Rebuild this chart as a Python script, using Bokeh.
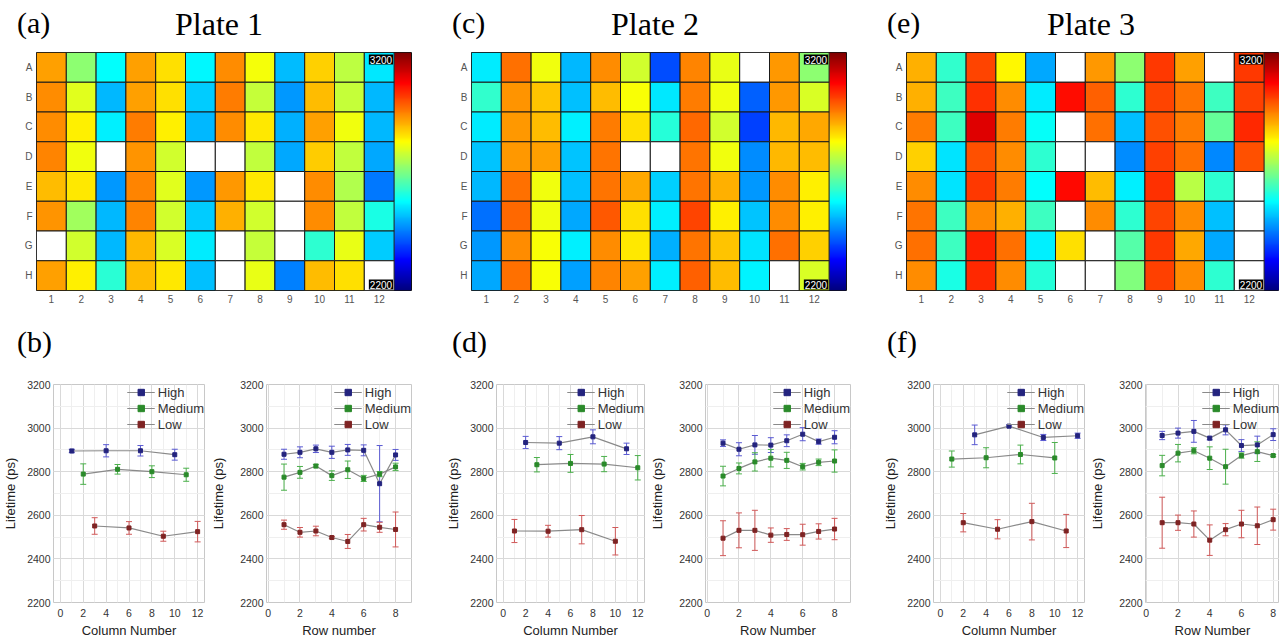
import numpy as np
from bokeh.plotting import figure
from bokeh.layouts import column, row
from bokeh.models import (Range1d, LinearColorMapper, ColumnDataSource, Label, Whisker, TeeHead,
                          Legend, LegendItem, SingleIntervalTicker, FixedTicker, Div)
from bokeh.transform import transform
from bokeh.embed import file_html
from bokeh.resources import INLINE

NaN = float("nan")

# ---------------- data ----------------
row_labels = ["A", "B", "C", "D", "E", "F", "G", "H"]
col_labels = ["1", "2", "3", "4", "5", "6", "7", "8", "9", "10", "11", "12"]
plate_titles = ["Plate 1", "Plate 2", "Plate 3"]
top_letters = ["(a)", "(c)", "(e)"]
bottom_letters = ["(b)", "(d)", "(f)"]
cbar_low, cbar_high = 2200, 3200
cbar_labels = ["3200", "2200"]

plate1 = [
    [2918, 2712, 2575, 2918, 2855, 2570, 2935, 2815, 2510, 2870, 2760, 2555],
    [2935, 2795, 2508, 2918, 2855, 2525, 2950, 2770, 2475, 2888, 2770, 2508],
    [2935, 2840, 2560, 2950, 2840, 2508, 2938, 2848, 2498, 2918, 2810, 2505],
    [2943, 2810, NaN, 2930, 2780, NaN, NaN, 2763, 2490, 2875, 2763, 2490],
    [2888, 2848, 2475, 2943, 2795, 2475, 2925, 2848, NaN, 2935, 2747, 2443],
    [2930, 2733, 2508, 2943, 2780, 2525, 2903, 2780, NaN, 2938, 2763, 2600],
    [NaN, 2780, 2508, 2893, 2788, 2557, NaN, 2770, NaN, 2620, 2803, 2525],
    [2918, 2840, 2615, 2888, 2848, 2513, NaN, 2803, 2450, 2888, 2855, NaN],
]
plate2 = [
    [2557, 2965, 2810, 2508, 2935, 2780, 2403, 2943, 2803, NaN, 2925, 2715],
    [2625, 2930, 2880, 2513, 2888, 2818, 2555, 2950, 2810, 2420, 2925, 2788],
    [2557, 2925, 2888, 2560, 2950, 2855, 2612, 2973, 2780, 2388, 2895, 2910],
    [2520, 2925, 2918, 2520, 2958, NaN, NaN, 2958, 2810, 2465, 2895, 2888],
    [2508, 2965, 2810, 2513, 2958, 2908, 2530, 2958, 2903, 2475, 2938, 2840],
    [2435, 2973, 2810, 2490, 2988, 2855, 2560, 3005, 2840, 2520, 2938, 2840],
    [2475, 2938, 2818, 2560, 2938, 2848, 2498, 2958, 2880, 2550, 2965, 2870],
    [2490, 2965, 2818, 2485, 2943, 2918, 2560, 2980, 2888, 2565, NaN, 2788],
]
plate3 = [
    [2903, 2625, 3005, 2830, 2490, NaN, 2925, 2715, 3020, 2915, NaN, 3020],
    [2903, 2635, 3027, 2935, 2557, 3060, 2980, 2620, 3005, 2958, 2635, 3012],
    [2950, 2635, 3105, 2950, 2580, NaN, 2965, 2513, 2995, 2950, 2675, 3035],
    [2870, 2550, 2995, 2935, 2620, NaN, NaN, 2465, 3012, 2965, 2458, 2995],
    [2938, 2550, 3020, 2950, 2575, 3067, 2888, 2560, 3027, 2755, 2620, NaN],
    [2958, 2635, 2938, 2903, 2635, NaN, 2938, 2620, 3005, 2938, 2513, NaN],
    [2965, 2635, 3043, 2965, 2560, 2855, NaN, 2660, 3020, 2910, 2490, NaN],
    [2938, 2600, 3035, 2935, 2612, NaN, NaN, 2700, 3012, 2935, 2620, NaN],
]

series_names = ["High", "Medium", "Low"]
row_x = [1, 2, 3, 4, 5, 6, 7, 8]

# Plate 1
p1_col_high_x = [1, 4, 7, 10];  p1_col_high = [2895, 2896, 2896, 2878]; p1_col_high_err = [8, 28, 24, 25]
p1_col_med_x = [2, 5, 8, 11];   p1_col_med = [2789, 2811, 2800, 2786];  p1_col_med_err = [47, 22, 27, 30]
p1_col_low_x = [3, 6, 9, 12];   p1_col_low = [2551, 2542, 2504, 2525];  p1_col_low_err = [38, 29, 23, 47]
p1_row_high = [2880, 2889, 2905, 2889, 2900, 2898, 2745, 2877]; p1_row_high_err = [23, 25, 17, 28, 25, 25, 175, 25]
p1_row_med = [2775, 2797, 2826, 2782, 2809, 2769, 2789, 2822];  p1_row_med_err = [60, 27, 8, 22, 40, 14, 12, 17]
p1_row_low = [2557, 2522, 2528, 2498, 2480, 2557, 2545, 2535];  p1_row_low_err = [21, 22, 22, 5, 32, 29, 23, 80]
# Plate 2
p2_col_high_x = [2, 5, 8, 11];  p2_col_high = [2934, 2931, 2960, 2905]; p2_col_high_err = [28, 30, 32, 26]
p2_col_med_x = [3, 6, 9, 12];   p2_col_med = [2832, 2838, 2835, 2818];  p2_col_med_err = [33, 41, 35, 56]
p2_col_low_x = [1, 4, 7, 10];   p2_col_low = [2528, 2527, 2534, 2481];  p2_col_low_err = [53, 27, 65, 63]
p2_row_high = [2931, 2903, 2923, 2922, 2942, 2972, 2938, 2958]; p2_row_high_err = [15, 30, 43, 34, 27, 30, 12, 30]
p2_row_med = [2780, 2815, 2845, 2862, 2852, 2823, 2843, 2849];  p2_row_med_err = [45, 25, 42, 40, 37, 15, 15, 51]
p2_row_low = [2495, 2531, 2531, 2509, 2512, 2511, 2526, 2537];  p2_row_low_err = [80, 80, 92, 33, 27, 48, 35, 49]
# Plate 3
p3_col_high_x = [3, 6, 9, 12];  p3_col_high = [2969, 3009, 2957, 2965]; p3_col_high_err = [45, 5, 14, 12]
p3_col_med_x = [1, 4, 7, 10];   p3_col_med = [2858, 2864, 2879, 2863];  p3_col_med_err = [37, 46, 43, 71]
p3_col_low_x = [2, 5, 8, 11];   p3_col_low = [2566, 2536, 2571, 2528];  p3_col_low_err = [42, 44, 84, 76]
p3_row_high = [2966, 2977, 2985, 2954, 2992, 2920, 2923, 2970]; p3_row_high_err = [19, 23, 50, 8, 23, 27, 40, 27]
p3_row_med = [2828, 2885, 2896, 2862, 2823, 2874, 2892, 2874];  p3_row_med_err = [47, 40, 14, 52, 80, 12, 45, 5]
p3_row_low = [2566, 2566, 2560, 2486, 2534, 2560, 2552, 2580];  p3_row_low_err = [117, 35, 60, 70, 28, 63, 86, 48]

col_xlabel = "Column Number"
row_xlabels = ["Row number", "Row Number", "Row Number"]
ylabel = "Lifetime (ps)"

# ---------------- style ----------------
SANS = "Liberation Sans"
SERIF = "Liberation Serif"
marker_colors = ["#23237e", "#2a8a2a", "#7e2323"]
bar_colors = ["#5a5ad2", "#4cb04c", "#d05a5a"]
line_color = "#8a8a8a"


def jet(n=256):
    out = []
    for i in range(n):
        t = i / (n - 1)
        r = min(max(1.5 - abs(4 * t - 3), 0), 1)
        g = min(max(1.5 - abs(4 * t - 2), 0), 1)
        b = min(max(1.5 - abs(4 * t - 1), 0), 1)
        out.append("#%02x%02x%02x" % (int(r * 255), int(g * 255), int(b * 255)))
    return out


JET = jet()
CELL = 29.8
CBAR_W = 17


def header_div(letter, title, width, title_center):
    html = (
        f'<div style="position:relative;width:{width}px;height:46px;'
        f"font-family:'Liberation Serif',serif;color:#000;\">"
        f'<span style="position:absolute;left:17px;top:8px;font-size:30px;line-height:30px;'
        f'white-space:nowrap;">{letter}</span>'
        f'<span style="position:absolute;left:{title_center - 100}px;width:200px;text-align:center;'
        f'top:8px;font-size:32px;line-height:32px;white-space:nowrap;">{title}</span></div>'
    )
    return Div(text=html, width=width, height=46, margin=0)


def heatmap(vals, width, frame_w):
    p = figure(width=width, height=264,
               x_range=Range1d(0.5, 0.5 + frame_w / CELL), y_range=Range1d(0.5, 8.5),
               output_backend="svg", toolbar_location=None,
               min_border_left=36, min_border_right=width - 36 - frame_w,
               min_border_top=6, min_border_bottom=20)
    xs, ys, vs = [], [], []
    for r in range(len(row_labels)):
        for c in range(len(col_labels)):
            xs.append(c + 1)
            ys.append(len(row_labels) - r)
            vs.append(vals[r][c])
    src = ColumnDataSource(dict(x=np.array(xs, float), y=np.array(ys, float), v=np.array(vs, float)))
    mapper = LinearColorMapper(palette=JET, low=cbar_low, high=cbar_high, nan_color="white")
    grad = np.linspace(cbar_low, cbar_high, 256).reshape(256, 1)
    p.image(image=[grad], x=12.5, y=0.5, dw=CBAR_W / CELL, dh=8, color_mapper=mapper)
    p.rect("x", "y", 1, 1, source=src, fill_color=transform("v", mapper),
           line_color="#1a1a1a", line_width=1)
    p.xaxis.ticker = FixedTicker(ticks=list(range(1, 13)))
    p.xaxis.major_label_overrides = {i + 1: col_labels[i] for i in range(12)}
    p.yaxis.ticker = FixedTicker(ticks=list(range(1, 9)))
    p.yaxis.major_label_overrides = {8 - i: row_labels[i] for i in range(8)}
    for ax in (p.xaxis[0], p.yaxis[0]):
        ax.axis_line_color = None
        ax.major_tick_line_color = None
        ax.minor_tick_line_color = None
        ax.major_tick_out = 0
        ax.major_tick_in = 0
        ax.minor_tick_out = 0
        ax.minor_tick_in = 0
        ax.major_label_text_font = SANS
        ax.major_label_text_font_size = "10px"
        ax.major_label_text_color = "#555555"
        ax.major_label_standoff = 4
    p.grid.visible = False
    p.outline_line_color = "#111111"
    p.outline_line_width = 1
    p.add_layout(Label(x=12.5, y=8.5, text=cbar_labels[0], text_align="right", text_baseline="top",
                       x_offset=-1, y_offset=-2, text_font=SANS, text_font_size="10px",
                       text_color="white", background_fill_color="black", padding=1))
    p.add_layout(Label(x=12.5, y=0.5, text=cbar_labels[1], text_align="right", text_baseline="bottom",
                       x_offset=-1, y_offset=1, text_font=SANS, text_font_size="10px",
                       text_color="white", background_fill_color="black", padding=1))
    return p


def lineplot(series, xr, width, frame_left, frame_w, xlabel, label_standoff, x_interval=2):
    p = figure(width=width, height=266, x_range=Range1d(*xr), y_range=Range1d(2200, 3200),
               output_backend="svg", toolbar_location=None,
               min_border_left=frame_left, min_border_right=width - frame_left - frame_w,
               min_border_top=10, min_border_bottom=38)
    items = []
    for (name, xs, ys, es), mc, bc in zip(series, marker_colors, bar_colors):
        src = ColumnDataSource(dict(x=xs, y=ys,
                                    upper=[y + e for y, e in zip(ys, es)],
                                    lower=[y - e for y, e in zip(ys, es)]))
        wh = Whisker(base="x", upper="upper", lower="lower", source=src,
                     line_color=bc, line_width=1,
                     upper_head=TeeHead(size=6, line_color=bc, line_width=1),
                     lower_head=TeeHead(size=6, line_color=bc, line_width=1))
        p.add_layout(wh)
        lr = p.line("x", "y", source=src, line_color=line_color, line_width=1.2)
        sr = p.scatter("x", "y", source=src, marker="square", size=4, color=mc)
        items.append(LegendItem(label=name, renderers=[lr, sr]))
    leg = Legend(items=items, location="top_right", margin=0, padding=0, spacing=0,
                 glyph_width=28, glyph_height=16, label_height=16, label_standoff=3,
                 label_text_font=SANS, label_text_font_size="13px", label_text_color="#333333",
                 background_fill_alpha=0, border_line_color=None)
    p.add_layout(leg)
    p.xaxis.ticker = SingleIntervalTicker(interval=x_interval, num_minor_ticks=2)
    p.yaxis.ticker = SingleIntervalTicker(interval=200, num_minor_ticks=2)
    p.xaxis.axis_label = xlabel
    p.yaxis.axis_label = ylabel
    for ax in (p.xaxis[0], p.yaxis[0]):
        ax.axis_line_color = None
        ax.major_tick_line_color = None
        ax.minor_tick_line_color = None
        ax.major_tick_out = 0
        ax.major_tick_in = 0
        ax.minor_tick_out = 0
        ax.minor_tick_in = 0
        ax.major_label_text_font = SANS
        ax.major_label_text_font_size = "10.5px"
        ax.major_label_text_color = "#333333"
        ax.axis_label_text_font = SANS
        ax.axis_label_text_font_size = "13px"
        ax.axis_label_text_font_style = "normal"
        ax.axis_label_text_color = "#222222"
    p.xaxis.major_label_standoff = 6
    p.xaxis.axis_label_standoff = 3
    p.yaxis.major_label_standoff = 3
    p.yaxis.axis_label_standoff = label_standoff
    p.grid.grid_line_color = "#d9d9d9"
    p.grid.minor_grid_line_color = "#efefef"
    p.outline_line_color = "#c8c8c8"
    return p


headers = row(
    header_div(top_letters[0], plate_titles[0], 435, 219),
    header_div(top_letters[1], plate_titles[1], 435, 220),
    header_div(top_letters[2], plate_titles[2], 409, 221),
)
top = row(
    heatmap(plate1, 435, 375),
    heatmap(plate2, 435, 375),
    heatmap(plate3, 409, 373),
)

mid_html = (
    "<div style=\"position:relative;width:1279px;height:64px;font-family:'Liberation Serif',serif;color:#000;\">"
    + "".join(
        f'<span style="position:absolute;left:{x}px;top:17px;font-size:30px;line-height:30px;'
        f'white-space:nowrap;">{t}</span>'
        for x, t in zip([17, 452, 887], bottom_letters)
    )
    + "</div>"
)
mid = Div(text=mid_html, width=1279, height=64, margin=0)

col_range = (-0.6, 12.6)
b1 = lineplot([(series_names[0], p1_col_high_x, p1_col_high, p1_col_high_err),
               (series_names[1], p1_col_med_x, p1_col_med, p1_col_med_err),
               (series_names[2], p1_col_low_x, p1_col_low, p1_col_low_err)],
              col_range, 208, 53, 151, col_xlabel, 6)
b2 = lineplot([(series_names[0], row_x, p1_row_high, p1_row_high_err),
               (series_names[1], row_x, p1_row_med, p1_row_med_err),
               (series_names[2], row_x, p1_row_low, p1_row_low_err)],
              (-0.1, 9.0), 235, 56, 147, row_xlabels[0], 11)
b3 = lineplot([(series_names[0], p2_col_high_x, p2_col_high, p2_col_high_err),
               (series_names[1], p2_col_med_x, p2_col_med, p2_col_med_err),
               (series_names[2], p2_col_low_x, p2_col_low, p2_col_low_err)],
              col_range, 204, 50, 151, col_xlabel, 6)
b4 = lineplot([(series_names[0], row_x, p2_row_high, p2_row_high_err),
               (series_names[1], row_x, p2_row_med, p2_row_med_err),
               (series_names[2], row_x, p2_row_low, p2_row_low_err)],
              (-0.1, 9.0), 231, 57, 146, row_xlabels[1], 11)
b5 = lineplot([(series_names[0], p3_col_high_x, p3_col_high, p3_col_high_err),
               (series_names[1], p3_col_med_x, p3_col_med, p3_col_med_err),
               (series_names[2], p3_col_low_x, p3_col_low, p3_col_low_err)],
              col_range, 209, 55, 151, col_xlabel, 6)
b6 = lineplot([(series_names[0], row_x, p3_row_high, p3_row_high_err),
               (series_names[1], row_x, p3_row_med, p3_row_med_err),
               (series_names[2], row_x, p3_row_low, p3_row_low_err)],
              (-0.05, 8.4), 192, 56, 136, row_xlabels[2], 11)

bottom = row(b1, b2, b3, b4, b5, b6)
page = column(headers, top, mid, bottom)

open("out.html", "w").write(file_html(page, INLINE))
